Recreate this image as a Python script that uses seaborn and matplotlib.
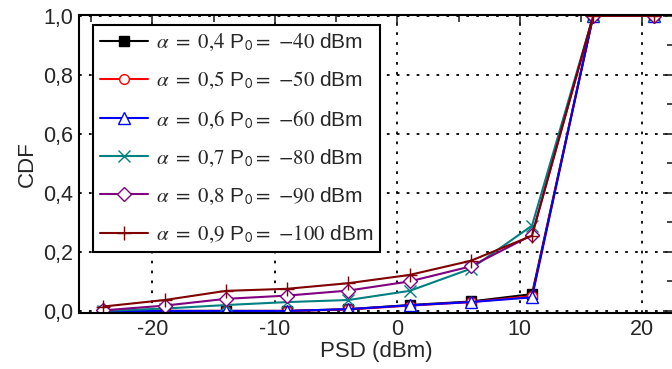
import numpy as np
import pandas as pd
import matplotlib
matplotlib.use("Agg")
import matplotlib.pyplot as plt
import seaborn as sns

psd = [-24, -19, -14, -9, -4, 1, 6, 11, 16, 21]
cdf_a04 = [0.0, 0.0, 0.0, 0.0, 0.006, 0.02, 0.032, 0.057, 1.0, 1.0]
cdf_a05 = [0.0, 0.0, 0.0, 0.0, 0.005, 0.018, 0.030, 0.050, 1.0, 1.0]
cdf_a06 = [0.0, 0.0, 0.0, 0.0, 0.006, 0.019, 0.030, 0.046, 1.0, 1.0]
cdf_a07 = [0.0, 0.008, 0.020, 0.030, 0.037, 0.068, 0.143, 0.289, 1.0, 1.0]
cdf_a08 = [0.002, 0.018, 0.041, 0.052, 0.069, 0.100, 0.151, 0.257, 1.0, 1.0]
cdf_a09 = [0.015, 0.037, 0.068, 0.075, 0.094, 0.122, 0.170, 0.255, 1.0, 1.0]

labels = [
    r"$\alpha\ =\ 0{,}4$ P$_\mathsf{0}$$=$ $-40$ dBm",
    r"$\alpha\ =\ 0{,}5$ P$_\mathsf{0}$$=$ $-50$ dBm",
    r"$\alpha\ =\ 0{,}6$ P$_\mathsf{0}$$=$ $-60$ dBm",
    r"$\alpha\ =\ 0{,}7$ P$_\mathsf{0}$$=$ $-80$ dBm",
    r"$\alpha\ =\ 0{,}8$ P$_\mathsf{0}$$=$ $-90$ dBm",
    r"$\alpha\ =\ 0{,}9$ P$_\mathsf{0}$$=$ $-100$ dBm",
]
series = [cdf_a04, cdf_a05, cdf_a06, cdf_a07, cdf_a08, cdf_a09]
colors = ["#000000", "#ff0000", "#0000ff", "#008080", "#800080", "#800000"]
markers = ["s", "o", "^", "x", "D", "+"]
fills = [True, False, False, True, False, True]
msizes = [7, 7, 8, 8, 7, 10]

yticks = [0.0, 0.2, 0.4, 0.6, 0.8, 1.0]
ytick_labels = ["0,0", "0,2", "0,4", "0,6", "0,8", "1,0"]
xticks = [-20, -10, 0, 10, 20]
xtick_labels = ["-20", "-10", "0", "10", "20"]

df = pd.DataFrame({
    "PSD": psd * len(series),
    "CDF": sum(series, []),
    "label": sum([[l] * len(psd) for l in labels], []),
})

sns.set_style("white")
plt.rcParams["font.family"] = ["Liberation Sans", "DejaVu Sans"]
plt.rcParams["mathtext.fontset"] = "stix"

fig = plt.figure(figsize=(6.72, 3.69), dpi=100)
ax = fig.add_axes([79 / 672, 1 - 313 / 369, 595 / 672, 298 / 369])

handles = []
for lab, c, m, f, ms in zip(labels, colors, markers, fills, msizes):
    sub = df[df["label"] == lab]
    sns.lineplot(data=sub, x="PSD", y="CDF", ax=ax, color=c, marker=m,
                 markersize=ms, markerfacecolor=(c if f else "white"),
                 markeredgecolor=c, markeredgewidth=1.0, linewidth=1.5,
                 legend=False, label=None)
    handles.append(ax.lines[-1])

ax.set_xlim(-26, 22.6)
ax.set_ylim(-0.007, 1.003)
ax.set_xticks(xticks)
ax.set_xticklabels(xtick_labels)
ax.set_yticks(yticks)
ax.set_yticklabels(ytick_labels)
ax.set_xticks(np.arange(-25, 23, 5), minor=True)
ax.set_yticks(np.arange(0, 1.01, 0.1), minor=True)
ax.tick_params(which="major", direction="in", length=8, width=1.2,
               top=True, right=True, labelsize=15.5, pad=4)
ax.tick_params(which="minor", direction="in", length=5, width=1.2,
               top=True, right=True)
ax.grid(True, which="major", color="black", linestyle=(0, (1.5, 4)), linewidth=1.3)
for s in ax.spines.values():
    s.set_color("black")
    s.set_linewidth(1.5)
ax.set_xlabel("PSD (dBm)", fontsize=16, labelpad=1)
ax.set_ylabel("CDF", fontsize=16, labelpad=4)

leg = ax.legend(handles, labels, loc="upper left", bbox_to_anchor=(14 / 595, 1 - 10 / 298),
                fontsize=15, frameon=True, fancybox=False, handlelength=2.3,
                labelspacing=0.82, borderpad=0.35, handletextpad=0.35, borderaxespad=0)
leg.get_frame().set_edgecolor("black")
leg.get_frame().set_linewidth(1.5)
leg.get_frame().set_alpha(1)

fig.savefig("out.png", dpi=100)
